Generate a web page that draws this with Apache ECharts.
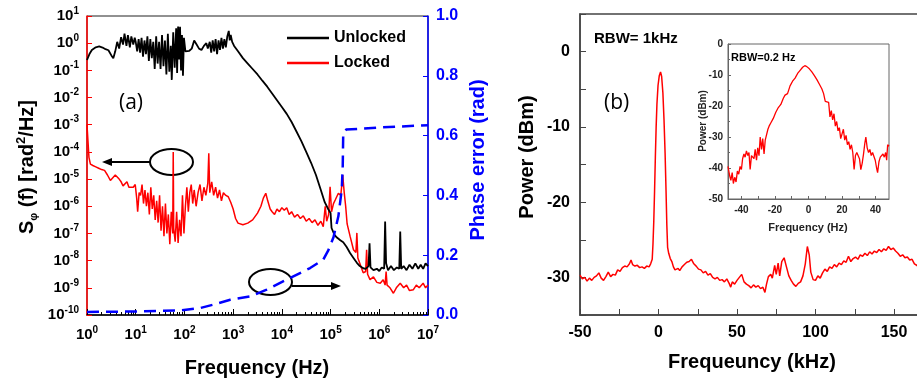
<!DOCTYPE html>
<html>
<head>
    <meta http-equiv="content-type" content="text/html; charset=utf-8">
    <title>Phase noise and beat spectrum</title>
    <script src="https://cdn.jsdelivr.net/npm/echarts@6/dist/echarts.min.js"></script>
    <style type="text/css">
        html, body { margin: 0; padding: 0; background: #fff; }
        #main { width: 917px; height: 381px; }
    </style>
</head>
<body>
    <div id="main"></div>
    <script type="text/javascript">
        // (a) phase noise, points stored as [log10(f / Hz), log10(S)]
        var unlockedPts = [
            [0.00,-0.62],[0.05,-0.40],[0.10,-0.25],[0.18,-0.15],[0.25,-0.12],[0.32,-0.16],[0.38,-0.22],
            [0.44,-0.26],[0.50,-0.45],[0.54,-0.55],[0.58,-0.30],[0.62,0.05],[0.66,-0.20],[0.70,0.22],
            [0.74,-0.05],[0.77,0.35],[0.81,-0.10],[0.84,0.30],[0.88,-0.15],[0.91,0.25],[0.95,-0.05],
            [0.98,0.20],[1.00,0.05],[1.03,-0.30],[1.06,0.15],[1.09,-0.35],[1.12,0.20],[1.15,-0.50],
            [1.18,0.10],[1.21,-0.40],[1.24,0.25],[1.27,-0.65],[1.30,0.15],[1.33,-0.55],[1.36,0.05],
            [1.39,-0.95],[1.42,0.25],[1.45,-0.75],[1.48,0.05],[1.51,-0.95],[1.54,0.30],[1.57,-0.85],
            [1.60,0.10],[1.63,-1.15],[1.66,0.35],[1.69,-1.05],[1.72,-0.10],[1.74,-1.35],[1.77,0.40],
            [1.80,-0.90],[1.83,0.55],[1.85,-1.10],[1.87,0.61],[1.89,-0.60],[1.91,0.60],[1.93,-1.00],
            [1.95,0.30],[1.97,-1.20],[1.99,0.20],[2.02,-0.30],[2.05,-0.25],[2.10,-0.28],[2.15,-0.20],
            [2.20,0.10],[2.25,-0.05],[2.30,-0.20],[2.35,-0.25],[2.40,-0.10],[2.45,0.00],[2.48,-0.20],
            [2.52,0.05],[2.55,-0.35],[2.58,0.10],[2.61,-0.30],[2.64,0.15],[2.67,-0.40],[2.70,0.10],
            [2.73,-0.25],[2.76,0.20],[2.79,-0.20],[2.82,0.15],[2.85,-0.15],[2.88,0.25],[2.91,0.45],
            [2.93,0.10],[2.95,0.30],[2.98,0.05],[3.02,-0.10],[3.10,-0.30],[3.20,-0.55],[3.30,-0.75],
            [3.40,-0.95],[3.50,-1.15],[3.60,-1.38],[3.70,-1.60],[3.80,-1.85],[3.90,-2.10],[4.00,-2.35],
            [4.10,-2.60],[4.20,-2.90],[4.30,-3.25],[4.40,-3.60],[4.50,-4.00],[4.60,-4.40],[4.70,-4.85],
            [4.80,-5.40],[4.88,-5.85],[4.95,-6.10],[5.00,-6.25],[5.02,-6.80],[5.08,-7.05],[5.13,-7.15],
            [5.20,-7.25],[5.26,-7.32],[5.33,-7.50],[5.40,-7.72],[5.47,-7.90],[5.54,-8.08],[5.60,-8.20],
            [5.67,-8.28],[5.72,-8.30],[5.78,-8.20],[5.80,-7.36],[5.82,-8.25],[5.88,-8.35],[5.95,-8.30],
            [6.00,-8.38],[6.05,-8.25],[6.10,-8.30],[6.12,-6.56],[6.14,-8.10],[6.18,-8.35],[6.24,-8.20],
            [6.30,-8.35],[6.36,-8.25],[6.41,-8.30],[6.43,-6.93],[6.45,-8.30],[6.50,-8.20],[6.56,-8.35],
            [6.62,-8.15],[6.68,-8.30],[6.74,-8.10],[6.80,-8.30],[6.85,-8.15],[6.90,-8.30],[6.95,-8.10],
            [7.00,-8.20]
        ];
        var lockedPts = [
            [0.00,-3.00],[0.02,-3.60],[0.04,-4.20],[0.07,-4.45],[0.12,-4.50],[0.18,-4.55],[0.24,-4.60],
            [0.30,-4.65],[0.36,-4.68],[0.42,-4.85],[0.48,-5.05],[0.52,-5.00],[0.58,-4.85],[0.62,-4.80],
            [0.66,-5.00],[0.70,-5.10],[0.74,-5.25],[0.78,-5.20],[0.82,-5.10],[0.86,-5.30],[0.90,-5.25],
            [0.95,-5.30],[0.99,-5.20],[1.02,-5.70],[1.04,-6.20],[1.07,-5.50],[1.10,-5.60],[1.13,-5.20],
            [1.16,-5.90],[1.19,-5.40],[1.22,-6.00],[1.25,-5.50],[1.28,-6.30],[1.31,-5.30],[1.34,-6.10],
            [1.37,-5.60],[1.40,-6.50],[1.43,-5.80],[1.46,-6.60],[1.49,-5.60],[1.52,-6.90],[1.55,-6.00],
            [1.58,-7.10],[1.61,-5.90],[1.64,-7.00],[1.67,-6.30],[1.70,-7.40],[1.73,-6.20],[1.76,-7.00],
            [1.77,-4.00],[1.78,-6.80],[1.81,-7.30],[1.84,-6.20],[1.87,-7.35],[1.90,-6.50],[1.93,-7.10],
            [1.96,-5.60],[1.99,-7.00],[2.02,-6.00],[2.05,-5.30],[2.08,-6.20],[2.11,-5.50],[2.14,-5.20],
            [2.17,-5.90],[2.20,-5.40],[2.24,-6.00],[2.28,-5.50],[2.32,-5.20],[2.36,-5.80],[2.40,-5.30],
            [2.44,-5.60],[2.48,-5.15],[2.50,-4.05],[2.52,-5.50],[2.56,-5.10],[2.60,-5.60],[2.64,-5.30],
            [2.68,-5.70],[2.72,-5.40],[2.76,-5.80],[2.80,-5.50],[2.85,-5.60],[2.90,-5.65],[2.95,-5.85],
            [3.00,-6.10],[3.05,-6.45],[3.10,-6.62],[3.20,-6.68],[3.30,-6.62],[3.40,-6.50],[3.50,-6.25],
            [3.57,-6.00],[3.62,-5.70],[3.67,-5.52],[3.71,-5.80],[3.76,-6.10],[3.80,-6.20],[3.85,-6.30],
            [3.90,-6.10],[3.95,-6.20],[4.00,-6.05],[4.05,-6.15],[4.10,-6.05],[4.15,-6.30],[4.20,-6.20],
            [4.26,-6.40],[4.32,-6.30],[4.38,-6.45],[4.44,-6.35],[4.50,-6.55],[4.56,-6.45],[4.62,-6.60],
            [4.68,-6.50],[4.74,-6.70],[4.80,-6.55],[4.85,-6.75],[4.89,-6.00],[4.92,-6.55],[4.96,-6.30],
            [4.99,-5.28],[5.02,-6.20],[5.06,-5.90],[5.10,-5.75],[5.16,-5.52],[5.21,-5.60],[5.25,-4.85],
            [5.28,-5.50],[5.31,-6.00],[5.34,-6.65],[5.40,-7.10],[5.47,-7.60],[5.52,-7.70],[5.54,-6.98],
            [5.56,-7.90],[5.60,-8.10],[5.64,-8.30],[5.67,-8.45],[5.72,-8.40],[5.74,-7.60],[5.76,-8.50],
            [5.81,-8.70],[5.88,-8.60],[5.95,-8.80],[6.02,-8.83],[6.08,-8.70],[6.12,-8.90],[6.14,-8.40],
            [6.16,-8.90],[6.22,-9.00],[6.29,-9.20],[6.35,-9.00],[6.43,-8.83],[6.50,-9.00],[6.56,-8.90],
            [6.62,-9.10],[6.70,-9.07],[6.76,-8.90],[6.82,-9.00],[6.90,-8.83],[6.95,-9.00],[7.00,-8.90]
        ];
        // phase error (rad) against log10(f)
        var phasePts = [
            [0.00,0.010],[1.00,0.012],[1.90,0.015],[2.32,0.023],[2.60,0.035],[2.94,0.051],[3.35,0.062],
            [3.69,0.085],[4.17,0.124],[4.58,0.157],[4.85,0.185],[4.95,0.215],[5.06,0.260],[5.16,0.330],
            [5.23,0.420],[5.25,0.500],[5.26,0.610],[5.32,0.620],[6.00,0.627],[7.00,0.635]
        ];

        // (b) beat note spectrum, RBW 1 kHz
        var beatKHz = [
            -50,-48.5,-47,-45.5,-44,-42.5,-41,-39.5,-38,-36.5,-35,-33.5,-32,-30.5,-29,-27.5,-26,-24.5,
            -23,-21.5,-20,-18.5,-17.5,-16.5,-15,-13.5,-12,-10.5,-9,-7.5,-6,-5,-4,-3.5,-3,-2.5,-2,-1.5,
            -1,-0.3,0.5,1.3,2,2.8,3.5,4.2,4.8,5.3,5.8,6.5,7.5,8.5,9.5,10.5,11.5,12.5,13.5,15,16.5,18,
            19.5,21,22.5,24,25.5,27,28.5,30,31.5,33,34.5,36,37.5,39,40.5,42,43.5,45,46,47,48.5,50,51.5,
            53,54.5,56,57.5,59,60.5,62,63.5,65,66.5,67.8,68.8,70,71.5,72.5,74,75,76.2,77.2,78.5,80,81.5,
            83,84.5,86,87.5,89,90.5,92,93.5,94.8,96,97,98.5,100,101.5,103,104.5,106,107.5,109,110.5,112,
            113.5,115,116.5,118,119.5,121,122.5,124,125.5,127,128.5,130,131.5,133,134.5,136,137.5,139,
            140.5,142,143.5,145,146.5,148,149.5,151,152.5,154,155.5,157,158.5,160,161.5,163,164.5,166,
            168,170
        ];
        var beatDbm = [
            -29.7,-30.2,-30.0,-30.5,-30.1,-30.4,-30.0,-29.8,-29.4,-30.1,-30.4,-29.9,-29.3,-29.9,-29.6,
            -29.7,-29.0,-29.2,-28.7,-28.5,-28.6,-28.2,-27.7,-28.3,-28.5,-28.4,-28.7,-28.6,-28.8,-28.5,
            -28.6,-28.2,-27.6,-25.5,-22.5,-18.5,-14,-10,-7,-4.5,-3.2,-2.7,-3.3,-5.5,-9,-13.5,-18.5,-23,
            -26,-26.8,-27.5,-27.9,-28.6,-29.0,-29.2,-28.8,-29.1,-28.6,-28.3,-28.0,-27.9,-27.6,-28.2,
            -28.5,-28.9,-29.0,-29.4,-29.2,-29.7,-29.5,-30.0,-30.2,-30.0,-30.4,-30.3,-30.6,-30.2,-30.8,
            -31.3,-30.6,-30.9,-30.4,-30.0,-29.6,-30.6,-30.9,-31.1,-31.4,-31.0,-31.3,-31.1,-31.5,-31.3,
            -32.0,-30.9,-29.9,-29.6,-30.1,-28.4,-29.6,-28.1,-29.8,-27.9,-27.4,-28.6,-29.8,-30.4,-30.9,
            -31.2,-30.8,-30.6,-29.8,-28.2,-25.9,-27.0,-29.3,-30.3,-30.4,-29.8,-30.1,-29.4,-28.9,-29.2,
            -28.6,-28.8,-28.3,-28.6,-28.1,-28.3,-27.8,-28.0,-27.2,-27.9,-27.5,-27.3,-27.6,-27.0,-27.2,
            -26.8,-27.1,-26.6,-26.9,-26.5,-26.7,-26.3,-26.6,-26.2,-26.4,-25.9,-26.3,-26.1,-26.5,-26.8,
            -27.2,-27.0,-27.4,-27.3,-27.7,-27.6,-28.2,-28.4,-28.7,-28.5,-28.9
        ];

        // (b) inset, RBW 0.2 Hz
        var insetHz = [
            -48,-47,-46.3,-45.5,-44.8,-44,-43.2,-42.4,-41.6,-40.8,-40,-39.3,-38.5,-37.8,-37,-36.2,-35.5,
            -34.8,-34,-33.2,-32.5,-31.8,-31,-30.3,-29.5,-28.8,-28,-27.3,-26.5,-25.8,-25,-24.2,-23.5,-22.5,
            -21,-19.5,-18,-16.5,-15,-14,-12.5,-11,-9.5,-8,-6.5,-5,-3.5,-2.2,-1,0.5,2,3.5,5,6.5,8,9,10,11,
            12,12.8,13.6,14.4,15.2,16,16.8,17.6,18.4,19.2,20,20.8,21.6,22.4,23.2,24,24.8,25.6,26.4,27.2,
            28,28.8,29.6,30.4,31.2,32,32.8,33.6,34.2,35,35.8,36.6,37.4,38.2,39,39.8,40.6,41.2,42,42.8,
            43.6,44.4,45.2,46,46.6,47.2,48
        ];
        var insetDbm = [
            -39.5,-42.5,-44,-41.5,-45,-43,-44.5,-41,-42,-39.5,-40.5,-37,-35.5,-36.5,-34.5,-36,-35,-40.5,
            -36,-35.5,-37,-34,-37.5,-33.5,-36,-30,-34,-30.5,-35.5,-31,-30.5,-27.5,-26.5,-25.5,-24,-22,
            -20.5,-19.5,-17.5,-16.5,-16,-13.5,-12,-11,-9.5,-8.5,-7.5,-7,-7.3,-8,-9,-10.2,-11.5,-13,-14.5,
            -16,-18.5,-19,-18.8,-23.5,-21.5,-24.5,-22.5,-26.5,-25,-28,-27,-30.5,-29,-27.5,-31,-29.5,-32.5,
            -31.5,-34,-32.5,-35,-40.5,-36,-35,-34.5,-37,-40.5,-38.5,-35.5,-32,-30,-33.5,-35,-34,-36,-35,
            -34.5,-37.5,-40,-41.5,-38,-36.5,-36,-35.5,-36.5,-35,-37.5,-32.5,-33
        ];

        var FONT = '"Liberation Sans", Arial, sans-serif';

        function toLogLog(pts) {
            return pts.map(function (p) { return [Math.pow(10, p[0]), Math.pow(10, p[1])]; });
        }
        function toLogX(pts) {
            return pts.map(function (p) { return [Math.pow(10, p[0]), p[1]]; });
        }
        function zip(xs, ys) {
            return xs.map(function (x, i) { return [x, ys[i]]; });
        }
        function powLabel(v) {
            var e = Math.round(Math.log10(v));
            return '{b|10}{s|' + e + '}';
        }
        var powRich = {
            b: { fontFamily: FONT, fontWeight: 'bold', fontSize: 15, color: '#000', lineHeight: 20 },
            s: { fontFamily: FONT, fontWeight: 'bold', fontSize: 10, color: '#000', verticalAlign: 'top' }
        };

        // minor tick positions for the log frequency axis (log10 units)
        var minorLog = [];
        for (var d = 0; d < 7; d++) {
            for (var k = 2; k <= 9; k++) minorLog.push(d + Math.log10(k));
        }

        var chart = echarts.init(document.getElementById('main'));
        var option = {
            backgroundColor: '#fff',
            animation: false,
            textStyle: { fontFamily: FONT },
            grid: [
                { left: 87, top: 16, width: 341, height: 299, outerBoundsMode: 'none', show: true, borderColor: '#222', borderWidth: 1 },
                { left: 580, top: 14, width: 392.5, height: 301, outerBoundsMode: 'none', show: true, borderColor: '#444', borderWidth: 1.5 },
                { left: 728, top: 44, width: 161, height: 155, outerBoundsMode: 'none', show: true, borderColor: '#666', borderWidth: 1 }
            ],
            legend: {
                data: ['Unlocked', 'Locked'],
                left: 282, top: 25, orient: 'vertical',
                icon: 'rect', itemWidth: 42, itemHeight: 2.5, itemGap: 9,
                textStyle: { fontFamily: FONT, fontSize: 16, fontWeight: 'bold', color: '#000', lineHeight: 16 }
            },
            xAxis: [
                {
                    type: 'log', gridIndex: 0, logBase: 10, min: 1, max: 1e7, interval: 1,
                    axisLine: { onZero: false, lineStyle: { color: '#000', width: 1.5 } },
                    axisTick: { inside: true, length: 6, lineStyle: { color: '#000' } },
                    axisLabel: { margin: 10, formatter: powLabel, rich: powRich },
                    splitLine: { show: false }
                },
                {
                    type: 'value', gridIndex: 0, min: 0, max: 7, position: 'bottom',
                    axisLine: { show: false, onZero: false },
                    axisTick: { show: true, inside: true, length: 3, customValues: minorLog, lineStyle: { color: '#000' } },
                    axisLabel: { show: false },
                    splitLine: { show: false }
                },
                {
                    type: 'value', gridIndex: 1, min: -50, max: 200, interval: 25,
                    axisLine: { onZero: false, lineStyle: { color: '#444', width: 1.5 } },
                    axisTick: { inside: true, length: 6, lineStyle: { color: '#444' } },
                    axisLabel: {
                        margin: 10, fontSize: 16, fontWeight: 'bold', color: '#000',
                        formatter: function (v) { return v % 50 === 0 ? String(v) : ''; }
                    },
                    splitLine: { show: false }
                },
                {
                    type: 'value', gridIndex: 2, min: -48, max: 48,
                    axisLine: { onZero: false, lineStyle: { color: '#666' } },
                    axisTick: { inside: true, length: 3, customValues: [-40, -30, -20, -10, 0, 10, 20, 30, 40], lineStyle: { color: '#666' } },
                    axisLabel: { margin: 6, fontSize: 10, fontWeight: 'bold', color: '#222', customValues: [-40, -20, 0, 20, 40] },
                    splitLine: { show: false }
                }
            ],
            yAxis: [
                {
                    type: 'log', gridIndex: 0, logBase: 10, min: 1e-10, max: 10, interval: 1,
                    axisLine: { onZero: false, lineStyle: { color: '#ff0000', width: 1.5 } },
                    axisTick: { inside: true, length: 5, lineStyle: { color: '#ff0000' } },
                    axisLabel: { margin: 8, formatter: powLabel, rich: powRich },
                    splitLine: { show: false }
                },
                {
                    type: 'value', gridIndex: 0, position: 'right', min: 0, max: 1, interval: 0.2,
                    axisLine: { show: true, onZero: false, lineStyle: { color: '#0000ff', width: 1.5 } },
                    axisTick: { show: true, inside: true, length: 5, lineStyle: { color: '#0000ff' } },
                    axisLabel: {
                        margin: 8, fontSize: 16, fontWeight: 'bold', color: '#0000ff',
                        formatter: function (v) { return v.toFixed(1); }
                    },
                    splitLine: { show: false }
                },
                {
                    type: 'value', gridIndex: 1, min: -35, max: 5, interval: 5,
                    axisLine: { onZero: false, lineStyle: { color: '#444', width: 1.5 } },
                    axisTick: { inside: true, length: 6, lineStyle: { color: '#444' } },
                    axisLabel: {
                        margin: 10, fontSize: 16, fontWeight: 'bold', color: '#000',
                        formatter: function (v) { return v % 10 === 0 ? String(v) : ''; }
                    },
                    splitLine: { show: false }
                },
                {
                    type: 'value', gridIndex: 2, min: -50, max: 0, interval: 10,
                    axisLine: { onZero: false, lineStyle: { color: '#666' } },
                    axisTick: { inside: true, length: 3, lineStyle: { color: '#666' } },
                    minorTick: { show: true, splitNumber: 2, length: 2, lineStyle: { color: '#666' } },
                    axisLabel: { margin: 5, fontSize: 10, fontWeight: 'bold', color: '#222' },
                    splitLine: { show: false }
                }
            ],
            series: [
                {
                    name: 'Locked', type: 'line', xAxisIndex: 0, yAxisIndex: 0,
                    data: toLogLog(lockedPts), showSymbol: false, color: '#ff0000',
                    lineStyle: { color: '#ff0000', width: 1.5 }
                },
                {
                    name: 'Unlocked', type: 'line', xAxisIndex: 0, yAxisIndex: 0,
                    data: toLogLog(unlockedPts), showSymbol: false, color: '#000',
                    lineStyle: { color: '#000', width: 1.8 }
                },
                {
                    name: 'Phase error', type: 'line', xAxisIndex: 0, yAxisIndex: 1,
                    data: toLogX(phasePts), showSymbol: false, color: '#0000ff',
                    lineStyle: { color: '#0000ff', width: 2.5, type: [12, 7] }
                },
                {
                    name: 'Beat', type: 'line', xAxisIndex: 2, yAxisIndex: 2,
                    data: zip(beatKHz, beatDbm), showSymbol: false,
                    lineStyle: { color: '#ff0000', width: 1.5 }
                },
                {
                    name: 'Inset', type: 'line', xAxisIndex: 3, yAxisIndex: 3,
                    data: zip(insetHz, insetDbm), showSymbol: false,
                    lineStyle: { color: '#ff0000', width: 1.3 }
                }
            ],
            graphic: [
                // axis titles
                { type: 'text', x: 257, y: 368, style: { text: 'Frequency (Hz)', font: 'bold 20px ' + FONT, fill: '#000', align: 'center', verticalAlign: 'middle' } },
                {
                    type: 'text', x: 27, y: 167, rotation: Math.PI / 2,
                    style: {
                        text: '{m|S}{sub|φ}{m| (f) [rad}{sup|2}{m|/Hz]}', align: 'center', verticalAlign: 'middle', fill: '#000',
                        rich: {
                            m: { fontFamily: FONT, fontWeight: 'bold', fontSize: 20, lineHeight: 24, fill: '#000' },
                            sub: { fontFamily: FONT, fontWeight: 'bold', fontSize: 11, verticalAlign: 'bottom', fill: '#000' },
                            sup: { fontFamily: FONT, fontWeight: 'bold', fontSize: 13, verticalAlign: 'top', fill: '#000' }
                        }
                    }
                },
                { type: 'text', x: 478, y: 160, rotation: Math.PI / 2, style: { text: 'Phase error (rad)', font: 'bold 20px ' + FONT, fill: '#0000ff', align: 'center', verticalAlign: 'middle' } },
                { type: 'text', x: 527, y: 157, rotation: Math.PI / 2, style: { text: 'Power (dBm)', font: 'bold 20px ' + FONT, fill: '#000', align: 'center', verticalAlign: 'middle' } },
                { type: 'text', x: 752, y: 362, style: { text: 'Frequeuncy (kHz)', font: 'bold 20px ' + FONT, fill: '#000', align: 'center', verticalAlign: 'middle' } },
                { type: 'text', x: 703, y: 121, rotation: Math.PI / 2, style: { text: 'Power (dBm)', font: 'bold 10px ' + FONT, fill: '#222', align: 'center', verticalAlign: 'middle' } },
                { type: 'text', x: 808, y: 228, style: { text: 'Frequency (Hz)', font: 'bold 11px ' + FONT, fill: '#222', align: 'center', verticalAlign: 'middle' } },
                // panel labels
                { type: 'text', x: 119, y: 103, style: { text: '(a)', font: '21px "Open Sans", sans-serif', fill: '#000', verticalAlign: 'middle' } },
                { type: 'text', x: 604, y: 103, style: { text: '(b)', font: '21px "Open Sans", sans-serif', fill: '#000', verticalAlign: 'middle' } },
                { type: 'text', x: 594, y: 39, style: { text: 'RBW= 1kHz', font: 'bold 15px ' + FONT, fill: '#000', verticalAlign: 'middle' } },
                { type: 'text', x: 731, y: 58, style: { text: 'RBW=0.2 Hz', font: 'bold 11px ' + FONT, fill: '#000', verticalAlign: 'middle' } },
                // annotation ellipses and arrows
                { type: 'ellipse', shape: { cx: 171.5, cy: 162, rx: 21.5, ry: 13 }, style: { fill: 'none', stroke: '#000', lineWidth: 2 } },
                { type: 'line', shape: { x1: 150, y1: 162, x2: 110, y2: 162 }, style: { stroke: '#000', lineWidth: 2 } },
                { type: 'polygon', shape: { points: [[102, 162], [112, 158], [112, 166]] }, style: { fill: '#000' } },
                { type: 'ellipse', shape: { cx: 270.5, cy: 282, rx: 21.5, ry: 13 }, style: { fill: 'none', stroke: '#000', lineWidth: 2 } },
                { type: 'line', shape: { x1: 292, y1: 286, x2: 333, y2: 286 }, style: { stroke: '#000', lineWidth: 2 } },
                { type: 'polygon', shape: { points: [[341, 286], [331, 282], [331, 290]] }, style: { fill: '#000' } }
            ]
        };
        chart.setOption(option);
    </script>
</body>
</html>
